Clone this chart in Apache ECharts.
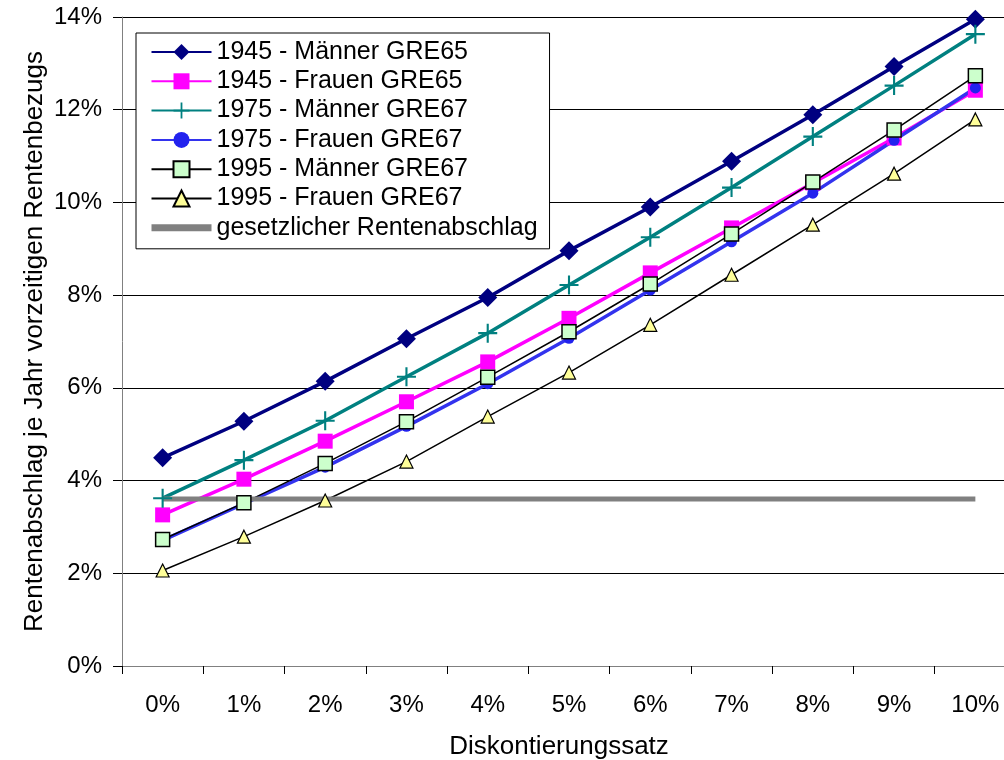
<!DOCTYPE html>
<html>
<head>
<meta charset="utf-8">
<script src="https://cdn.jsdelivr.net/npm/echarts@6/dist/echarts.min.js"></script>
<style>html,body{margin:0;padding:0;background:#fff;overflow:hidden;}#c{width:1020px;height:760px;}</style>
</head>
<body>
<div id="c"></div>
<script>
const categories = ['0%','1%','2%','3%','4%','5%','6%','7%','8%','9%','10%'];
const m1945 = [4.49, 5.28, 6.14, 7.06, 7.95, 8.96, 9.90, 10.89, 11.89, 12.93, 13.95];
const f1945 = [3.26, 4.03, 4.85, 5.70, 6.56, 7.50, 8.48, 9.45, 10.42, 11.39, 12.42];
const m1975 = [3.62, 4.44, 5.29, 6.24, 7.18, 8.22, 9.25, 10.32, 11.42, 12.52, 13.63];
const f1975 = [2.71, 3.50, 4.29, 5.17, 6.09, 7.07, 8.11, 9.15, 10.20, 11.34, 12.47];
const m1995 = [2.73, 3.52, 4.37, 5.27, 6.23, 7.21, 8.24, 9.32, 10.44, 11.56, 12.73];
const f1995 = [2.06, 2.79, 3.57, 4.41, 5.38, 6.33, 7.36, 8.44, 9.52, 10.62, 11.79];
const gesetz = [3.6, 3.6, 3.6, 3.6, 3.6, 3.6, 3.6, 3.6, 3.6, 3.6, 3.6];
const seriesNames = ['1945 - Männer GRE65','1945 - Frauen GRE65','1975 - Männer GRE67','1975 - Frauen GRE67','1995 - Männer GRE67','1995 - Frauen GRE67','gesetzlicher Rentenabschlag'];
const yTicks = {min: 0, max: 14, interval: 2};

const FONT = '"Liberation Sans", Arial, sans-serif';
const plus = 'path://M8,0H10V8H18V10H10V18H8V10H0V8H8Z';

const chart = echarts.init(document.getElementById('c'), null, {renderer: 'canvas'});
chart.setOption({
  animation: false,
  backgroundColor: '#fff',
  textStyle: {fontFamily: FONT},
  grid: {left: 122, top: 17, width: 894, height: 649, containLabel: false, outerBoundsMode: 'none'},
  legend: {
    orient: 'vertical', left: 136, top: 33,
    backgroundColor: '#fff', borderColor: '#000', borderWidth: 1,
    padding: [6.5, 12, 8.5, 12],
    itemWidth: 60, itemHeight: 20, itemGap: 4.3,
    textStyle: {fontFamily: FONT, fontSize: 25, color: '#000', lineHeight: 25},
    data: seriesNames.slice(0, 6).map(n => ({name: n})).concat([
      {name: seriesNames[6], itemStyle: {opacity: 0}, lineStyle: {width: 7}}
    ])
  },
  xAxis: {
    type: 'category', data: categories, boundaryGap: true,
    axisLine: {lineStyle: {color: '#808080', width: 1}},
    axisTick: {show: true, length: 8, alignWithLabel: false, lineStyle: {color: '#000'}},
    axisLabel: {fontFamily: FONT, fontSize: 24, color: '#000', margin: 27},
    name: 'Diskontierungssatz', nameLocation: 'middle', nameGap: 68, nameMoveOverlap: false,
    nameTextStyle: {fontFamily: FONT, fontSize: 26, color: '#000', padding: [0, 20, 0, 0]}
  },
  yAxis: {
    type: 'value', min: yTicks.min, max: yTicks.max, interval: yTicks.interval,
    axisLine: {show: true, lineStyle: {color: '#808080', width: 1}},
    axisTick: {show: true, length: 9, lineStyle: {color: '#000'}},
    axisLabel: {fontFamily: FONT, fontSize: 24, color: '#000', margin: 20, formatter: '{value}%'},
    splitLine: {show: true, lineStyle: {color: '#000', width: 1}},
    name: 'Rentenabschlag je Jahr vorzeitigen Rentenbezugs', nameLocation: 'middle', nameGap: 74, nameMoveOverlap: false,
    nameTextStyle: {fontFamily: FONT, fontSize: 26, color: '#000'}
  },
  series: [
    {name: seriesNames[0], type: 'line', data: m1945, symbol: 'diamond', symbolSize: 19,
     lineStyle: {color: '#000080', width: 3.5}, itemStyle: {color: '#000080'}},
    {name: seriesNames[1], type: 'line', data: f1945, symbol: 'rect', symbolSize: 15,
     lineStyle: {color: '#ff00ff', width: 3.5}, itemStyle: {color: '#ff00ff'}},
    {name: seriesNames[2], type: 'line', data: m1975, symbol: plus, symbolSize: 19,
     lineStyle: {color: '#008080', width: 3.5}, itemStyle: {color: '#008080'}},
    {name: seriesNames[3], type: 'line', data: f1975, symbol: 'circle', symbolSize: 11,
     lineStyle: {color: '#3333ee', width: 3.5}, itemStyle: {color: '#2222ee'}},
    {name: seriesNames[4], type: 'line', data: m1995, symbol: 'rect', symbolSize: 14,
     lineStyle: {color: '#000', width: 1.5}, itemStyle: {color: '#ccffcc', borderColor: '#000', borderWidth: 1.5}},
    {name: seriesNames[5], type: 'line', data: f1995, symbol: 'triangle', symbolSize: 13,
     lineStyle: {color: '#000', width: 1.5}, itemStyle: {color: '#ffff99', borderColor: '#000', borderWidth: 1.2}},
    {name: seriesNames[6], type: 'line', data: gesetz, symbol: 'none',
     lineStyle: {color: '#808080', width: 5}, itemStyle: {color: '#808080'}}
  ]
});
</script>
</body>
</html>
